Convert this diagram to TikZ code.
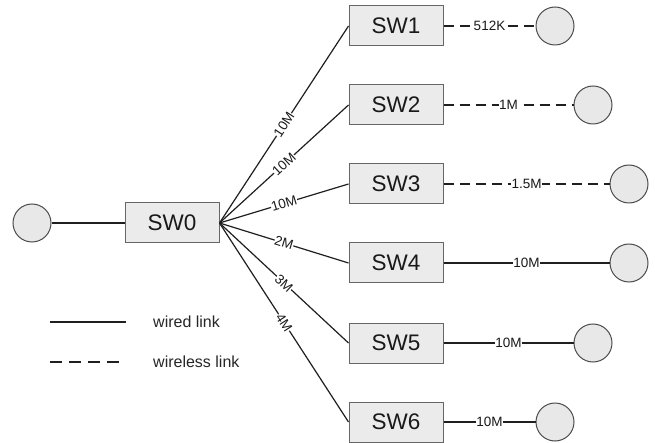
\documentclass[tikz,border=0pt]{standalone}
\usepackage{fontspec}
\setmainfont{Liberation Sans}
\begin{document}
\begin{tikzpicture}[x=1pt,y=-1pt,
  swbox/.style={draw=black!60,fill=black!8,line width=1pt,minimum width=94pt,minimum height=40pt,inner sep=0pt,font=\fontsize{22.5}{24}\selectfont,text=black!90},
  host/.style={circle,draw=black!70,fill=black!9,line width=1pt,minimum size=38pt,inner sep=0pt},
  wire/.style={draw=black!88,line width=1.2pt},
  wless/.style={draw=black!88,line width=1.2pt,dash pattern=on 10pt off 6pt},
  lbl/.style={fill=white,inner sep=0.3pt,font=\fontsize{13.5}{14}\selectfont,text=black!90},
  leg/.style={anchor=west,inner sep=0pt,font=\fontsize{16}{18}\selectfont,text=black!85}]
\fill[white] (0,0) rectangle (655,443);
\useasboundingbox (0,0) rectangle (655,443);
\node[host] (h0) at (32,223) {};
\node[swbox] (sw0) at (172,223) {SW0};
\node[swbox] (sw1) at (396,26) {SW1};
\node[swbox] (sw2) at (396,105) {SW2};
\node[swbox] (sw3) at (396,184) {SW3};
\node[swbox] (sw4) at (396,263) {SW4};
\node[swbox] (sw5) at (396,343) {SW5};
\node[swbox] (sw6) at (396,422) {SW6};
\node[host] (h1) at (555,26) {};
\node[host] (h2) at (593,105) {};
\node[host] (h3) at (629,184) {};
\node[host] (h4) at (629,263) {};
\node[host] (h5) at (593,343) {};
\node[host] (h6) at (555,422) {};
\draw[wire] (h0) -- (sw0);
\draw[wire] (sw0.east) -- node[lbl,sloped] {10M} (sw1.west);
\draw[wire] (sw0.east) -- node[lbl,sloped] {10M} (sw2.west);
\draw[wire] (sw0.east) -- node[lbl,sloped] {10M} (sw3.west);
\draw[wire] (sw0.east) -- node[lbl,sloped] {2M} (sw4.west);
\draw[wire] (sw0.east) -- node[lbl,sloped] {3M} (sw5.west);
\draw[wire] (sw0.east) -- node[lbl,sloped] {4M} (sw6.west);
\draw[wless] (sw1) -- node[lbl] {512K} (h1);
\draw[wless] (sw2) -- node[lbl] {1M} (h2);
\draw[wless] (sw3) -- node[lbl] {1.5M} (h3);
\draw[wire] (sw4) -- node[lbl] {10M} (h4);
\draw[wire] (sw5) -- node[lbl] {10M} (h5);
\draw[wire] (sw6) -- node[lbl] {10M} (h6);
\coordinate (la) at (50,322);
\coordinate (lb) at (126,322);
\coordinate (lc) at (50,362);
\coordinate (ld) at (126,362);
\draw[wire,line width=1.5pt] (la) -- (lb);
\draw[wless,line width=1.5pt,dash pattern=on 12pt off 7pt] (lc) -- (ld);
\node[leg] (t1) at (153,322) {wired link};
\node[leg] (t2) at (153,362) {wireless link};
\end{tikzpicture}
\end{document}
